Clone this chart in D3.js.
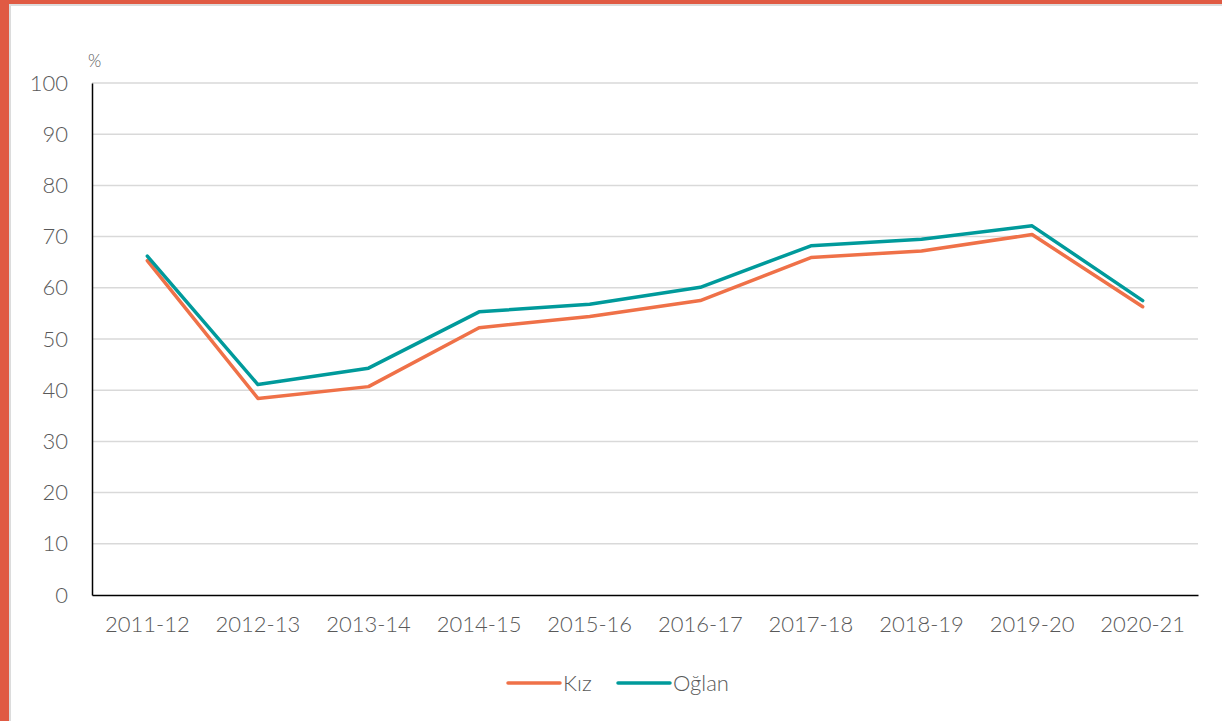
<!DOCTYPE html>
<html>
<head>
<meta charset="utf-8">
<script src="https://cdn.jsdelivr.net/npm/d3@7"></script>
<style>
  html, body { margin: 0; padding: 0; background: #fff; }
  svg { display: block; }
  text { font-family: Lato, "Open Sans", sans-serif; fill: #595959; font-weight: 300; }
</style>
</head>
<body>
<svg id="chart" width="1222" height="721"></svg>
<script>
const categories = ["2011-12","2012-13","2013-14","2014-15","2015-16","2016-17","2017-18","2018-19","2019-20","2020-21"];
const kiz   = [65.3, 38.4, 40.7, 52.2, 54.4, 57.5, 65.9, 67.2, 70.4, 56.3];
const oglan = [66.2, 41.1, 44.3, 55.3, 56.8, 60.1, 68.2, 69.5, 72.1, 57.5];
const yTicks = [0,10,20,30,40,50,60,70,80,90,100];
const seriesNames = ["Kız", "Oğlan"];
const colors = ["#EF7148", "#009A9B"];

const svg = d3.select("#chart");
const W = 1222, H = 721;
const FONT = "Lato, 'Open Sans', sans-serif";

// frame
svg.append("rect").attr("x",0).attr("y",0).attr("width",W).attr("height",H).attr("fill","#fff");
svg.append("rect").attr("x",0).attr("y",0).attr("width",W).attr("height",4).attr("fill","#E05A43");
svg.append("rect").attr("x",0).attr("y",0).attr("width",9).attr("height",H).attr("fill","#E05A43");
svg.append("rect").attr("x",9).attr("y",4).attr("width",W-9).attr("height",2).attr("fill","#dcdcdc");
svg.append("rect").attr("x",9).attr("y",4).attr("width",2).attr("height",H-4).attr("fill","#dcdcdc");

const mLeft = 92, mRight = 1198, mTop = 83, mBottom = 595;
const x = d3.scaleBand().domain(categories).range([mLeft, mRight]);
const y = d3.scaleLinear().domain([0,100]).range([mBottom, mTop]);

// gridlines
svg.append("g").selectAll("line").data(yTicks.filter(d => d > 0)).join("line")
  .attr("x1", mLeft).attr("x2", mRight)
  .attr("y1", d => y(d)).attr("y2", d => y(d))
  .attr("stroke", "#d9d9d9").attr("stroke-width", 1.5);

// y axis
const yAxis = svg.append("g").attr("transform", `translate(${mLeft},0)`)
  .call(d3.axisLeft(y).tickValues(yTicks).tickSize(0).tickPadding(24));
yAxis.select(".domain").attr("stroke", "#000").attr("stroke-width", 1.5);
yAxis.selectAll("text").style("font-size", "22px").style("fill", "#595959")
  .style("font-family", FONT).style("font-weight", 300);

// x axis
const xAxis = svg.append("g").attr("transform", `translate(0,${mBottom})`)
  .call(d3.axisBottom(x).tickSize(0).tickPadding(21));
xAxis.select(".domain").attr("stroke", "#000").attr("stroke-width", 1.5);
xAxis.selectAll("text").style("font-size", "22px").style("fill", "#595959")
  .style("font-family", FONT).style("font-weight", 300);

// % label
svg.append("text").attr("x", 88).attr("y", 67).style("font-size", "17px").text("%");

// lines
const line = d3.line().x((d,i) => x(categories[i]) + x.bandwidth()/2).y(d => y(d));
[kiz, oglan].forEach((s, k) => {
  svg.append("path").datum(s).attr("d", line)
    .attr("fill", "none").attr("stroke", colors[k]).attr("stroke-width", 3.5)
    .attr("stroke-linejoin", "round").attr("stroke-linecap", "round");
});

// legend
const legendItems = [{x: 508, name: seriesNames[0], c: colors[0]}, {x: 618, name: seriesNames[1], c: colors[1]}];
const lg = svg.append("g");
legendItems.forEach(it => {
  lg.append("line").attr("x1", it.x).attr("x2", it.x + 52).attr("y1", 683).attr("y2", 683)
    .attr("stroke", it.c).attr("stroke-width", 3.5).attr("stroke-linecap", "round");
  lg.append("text").attr("x", it.x + 55).attr("y", 691).style("font-size", "22px").text(it.name);
});
</script>
</body>
</html>
